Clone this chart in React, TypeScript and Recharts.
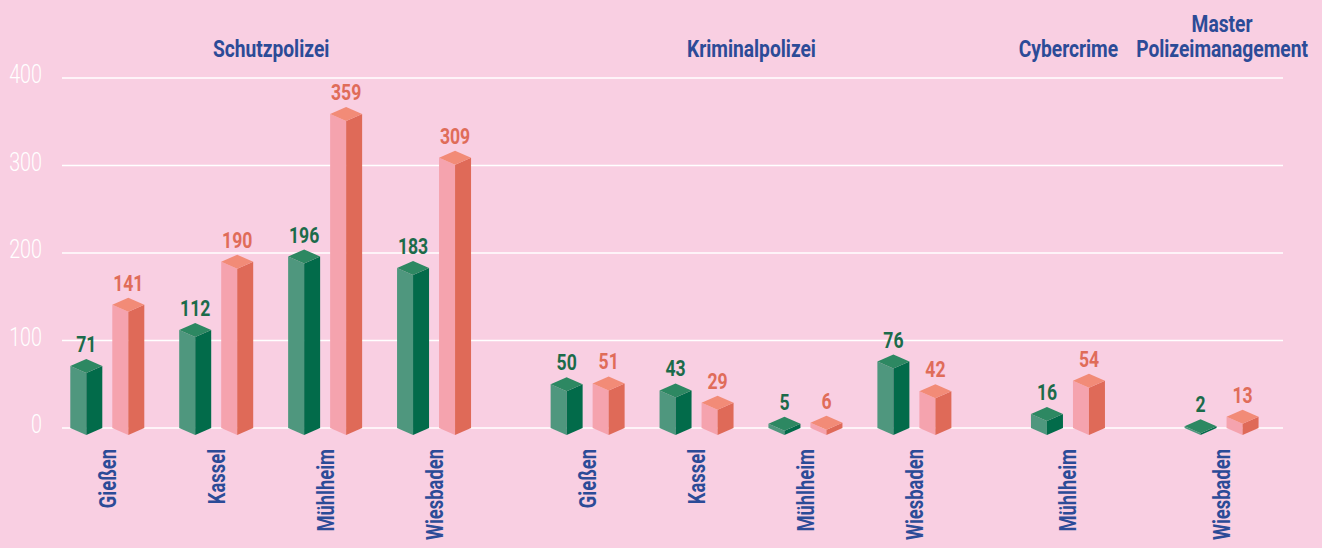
import React from 'react';
import { BarChart, Bar, XAxis, YAxis, CartesianGrid, LabelList } from 'recharts';

const groupNames = ['Schutzpolizei', 'Kriminalpolizei', 'Cybercrime', 'Master\nPolizeimanagement'];
const locations = ['Gießen', 'Kassel', 'Mühlheim', 'Wiesbaden', 'Gießen', 'Kassel', 'Mühlheim', 'Wiesbaden', 'Mühlheim', 'Wiesbaden'];
const groupOf = [0, 0, 0, 0, 1, 1, 1, 1, 2, 3];
const greenValues = [71, 112, 196, 183, 50, 43, 5, 76, 16, 2];
const salmonValues = [141, 190, 359, 309, 51, 29, 6, 42, 54, 13];
const yTicks = [0, 100, 200, 300, 400];

const GROUP_GAP = 0.41;
const FONT = 'Roboto, sans-serif';
const BLUE = '#2c4b97';
const SQUEEZE = 0.8; // the original face is a condensed grotesque

const data = locations.map((loc, i) => ({
  pos: i + groupOf[i] * GROUP_GAP,
  loc,
  green: greenValues[i],
  salmon: salmonValues[i],
}));

const positions = data.map((d) => d.pos);
const groupCenters = groupNames.map((_, g) => {
  const ps = data.filter((_, i) => groupOf[i] === g).map((d) => d.pos);
  return (Math.min(...ps) + Math.max(...ps)) / 2;
});

const palette = {
  green: { left: '#4f977e', right: '#026b4a', top: '#2d8862', text: '#1c6b4a' },
  salmon: { left: '#f5a3ae', right: '#df6a58', top: '#f28b77', text: '#e06c59' },
};

const D = 7;

const prism = (c: { left: string; right: string; top: string }) => (props: any) => {
  const { x, y, width, height } = props;
  if (x == null || y == null) return null;
  const base = y + height;
  const xm = x + width / 2;
  const x1 = x + width;
  return (
    <g>
      <polygon points={`${x},${y} ${xm},${y + D} ${xm},${base + D} ${x},${base}`} fill={c.left} />
      <polygon points={`${xm},${y + D} ${x1},${y} ${x1},${base} ${xm},${base + D}`} fill={c.right} />
      <polygon points={`${x},${y} ${xm},${y - D} ${x1},${y} ${xm},${y + D}`} fill={c.top} />
    </g>
  );
};

const valueLabel = (color: string) => (props: any) => {
  const { x, y, width, value } = props;
  return (
    <g transform={`translate(${x + width / 2},${y - 14}) scale(${SQUEEZE},1)`}>
      <text x={0} y={0} textAnchor="middle" fill={color} fontFamily={FONT} fontWeight={700} fontSize={22}>
        {value}
      </text>
    </g>
  );
};

const LocationTick = (props: any) => {
  const { x, payload } = props;
  const row = data.find((d) => Math.abs(d.pos - payload.value) < 1e-6);
  return (
    <g transform={`translate(${x + 8},449) rotate(-90) scale(${SQUEEZE},1)`}>
      <text x={0} y={0} textAnchor="end" fill={BLUE} fontFamily={FONT} fontWeight={700} fontSize={23}>
        {row ? row.loc : ''}
      </text>
    </g>
  );
};

const GroupTick = (props: any) => {
  const { x, payload } = props;
  const idx = groupCenters.findIndex((c) => Math.abs(c - payload.value) < 1e-6);
  const lines = idx >= 0 ? groupNames[idx].split('\n') : [];
  return (
    <g transform={`translate(${x},57) scale(${SQUEEZE},1)`}>
      <text textAnchor="middle" fill={BLUE} fontFamily={FONT} fontWeight={700} fontSize={24}>
        {lines.map((l, i) => (
          <tspan key={i} x={0} y={-(lines.length - 1 - i) * 25.5}>
            {l}
          </tspan>
        ))}
      </text>
    </g>
  );
};

const YTick = (props: any) => {
  const { y, payload } = props;
  return (
    <g transform={`translate(42,${y + 5}) scale(0.76,1)`}>
      <text x={0} y={0} textAnchor="end" fill="#ffffff" fontFamily={FONT} fontWeight={300} fontSize={26}>
        {payload.value}
      </text>
    </g>
  );
};

const domain: [number, number] = [-0.42, Math.max(...positions) + 0.56];

export default function App() {
  return (
    <div style={{ position: 'fixed', left: 0, top: 0, width: 1322, height: 548, background: '#f9cfe2' }}>
      <BarChart width={1322} height={548} data={data} margin={{ top: 0, right: 39, bottom: 0, left: 0 }} barGap={10} barSize={32}>
        <CartesianGrid vertical={false} stroke="#ffffff" strokeWidth={1.5} />
        <XAxis
          dataKey="pos"
          type="number"
          domain={domain}
          allowDataOverflow
          ticks={positions}
          interval={0}
          height={120}
          axisLine={false}
          tickLine={false}
          tick={<LocationTick />}
        />
        <XAxis
          xAxisId="top"
          dataKey="pos"
          orientation="top"
          type="number"
          domain={domain}
          allowDataOverflow
          ticks={groupCenters}
          interval={0}
          height={78}
          axisLine={false}
          tickLine={false}
          tick={<GroupTick />}
        />
        <YAxis
          domain={[0, 400]}
          ticks={yTicks}
          width={62}
          axisLine={false}
          tickLine={false}
          tick={<YTick />}
        />
        <Bar dataKey="green" isAnimationActive={false} shape={prism(palette.green)}>
          <LabelList dataKey="green" content={valueLabel(palette.green.text)} />
        </Bar>
        <Bar dataKey="salmon" isAnimationActive={false} shape={prism(palette.salmon)}>
          <LabelList dataKey="salmon" content={valueLabel(palette.salmon.text)} />
        </Bar>
      </BarChart>
    </div>
  );
}
